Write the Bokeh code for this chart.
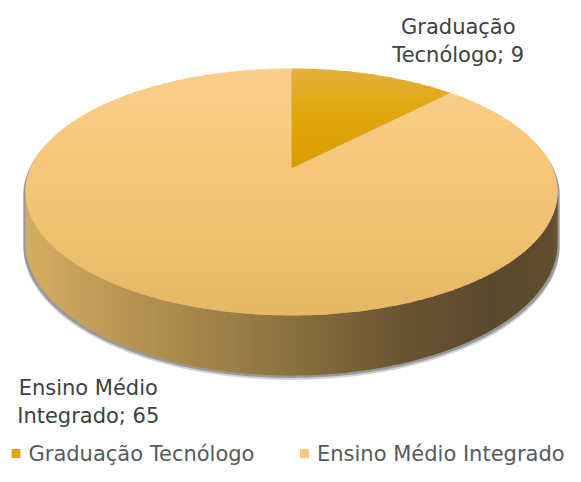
import numpy as np
from bokeh.plotting import figure
from bokeh.models import Range1d
from bokeh.embed import file_html
from bokeh.resources import INLINE
from bokeh.core.properties import value

# ---------------- data ----------------
categories = ["Graduação Tecnólogo", "Ensino Médio Integrado"]
counts = [9, 65]

# ---------------- styles / layout ----------------
W, H = 565, 466
FONT = "DejaVu Sans"
LABEL_COLOR = "#404040"
LEGEND_TEXT_COLOR = "#595959"
LEGEND_COLORS = ["#E2A300", "#F8C87B"]
# vertical gradient stops (y_px, rgb) of each slice's top face
TOP_STOPS = [
    [(68, (228, 176, 62)), (112, (226, 167, 12)), (168, (216, 156, 0))],
    [(68, (250, 206, 139)), (180, (245, 198, 120)), (315, (230, 184, 100))],
]
# horizontal gradient stops (x_px, rgb) of the visible side wall
SIDE_STOPS = [(25, (212, 174, 98)), (120, (186, 150, 84)), (290, (140, 112, 64)),
              (400, (106, 85, 50)), (490, (90, 73, 43)), (557, (96, 78, 46))]

# perspective pie geometry (screen pixels)
CX, CY = 291.0, 168.0
ALPHA, BETA, SX = 119.0, 0.19, 261.2
DEPTH = 60.0 * (1 - BETA)
LABEL_OFFSETS = [(84, -42), (-85, 32)]
TEXT_DY = -6          # renderer places the alphabetic baseline a few px low
LINE_GAP = 28.5
LABEL_SIZE = 21
LEGEND_SIZE = 21
LEG_Y = 459           # visual baseline of legend text
LEG_X = [15.5, 304]


def proj(t, r=1.0, drop=0.0):
    X = r * np.sin(t)
    Y = r * np.cos(t)
    w = 1 + BETA * Y
    return CX + SX * X / w, CY - ALPHA * Y / w + drop / w


def lerp_color(stops, v):
    ks = [s[0] for s in stops]
    rgb = [int(round(np.interp(v, ks, [s[1][c] for s in stops]))) for c in range(3)]
    return "#%02x%02x%02x" % tuple(rgb)


def clip(poly, inside, cut):
    out = []
    for i in range(len(poly)):
        cur, prev = poly[i], poly[i - 1]
        if inside(cur):
            if not inside(prev):
                out.append(cut(prev, cur))
            out.append(cur)
        elif inside(prev):
            out.append(cut(prev, cur))
    return out


def hcut(c):
    def f(p, q):
        s = (c - p[1]) / (q[1] - p[1])
        return (p[0] + s * (q[0] - p[0]), c)
    return f


total = float(sum(counts))
angles = np.concatenate([[0], np.cumsum(counts) / total * 2 * np.pi])

p = figure(width=W, height=H, output_backend="svg", toolbar_location=None,
           x_axis_type=None, y_axis_type=None,
           x_range=Range1d(0, W), y_range=Range1d(H, 0),
           min_border=0, outline_line_color=None, background_fill_color="white")
p.grid.visible = False

xs, ys, cols, alphas = [], [], [], []

# ---- shadow silhouette ----
t_r = np.arccos(-BETA)
t_l = 2 * np.pi - t_r
back = np.linspace(t_l - 2 * np.pi, t_r, 200)
front = np.linspace(t_r, t_l, 200)
sx = [proj(t)[0] for t in back] + [proj(t, drop=DEPTH)[0] for t in front]
sy = [proj(t)[1] for t in back] + [proj(t, drop=DEPTH)[1] for t in front]
for dy, a in [(4.5, 0.22), (2.5, 0.35)]:
    xs.append([CX + (x - CX) * 1.008 for x in sx])
    ys.append([y + dy for y in sy])
    cols.append("#303030")
    alphas.append(a)

# ---- side walls (front part of every slice) ----
for i in range(len(counts)):
    a0, a1 = angles[i], angles[i + 1]
    for off in (0.0, 2 * np.pi):
        lo, hi = max(a0 + off, t_r), min(a1 + off, t_l)
        if hi <= lo:
            continue
        n = max(2, int((hi - lo) / (2 * np.pi) * 500))
        ts = np.linspace(lo, hi, n + 1)
        dt = ts[1] - ts[0]
        for k in range(n):
            ta, tb = ts[k], min(ts[k + 1] + dt * 0.7, hi)
            pa, pb = proj(ta), proj(tb)
            qa, qb = proj(ta, drop=DEPTH), proj(tb, drop=DEPTH)
            xs.append([pa[0], pb[0], qb[0], qa[0]])
            ys.append([pa[1], pb[1], qb[1], qa[1]])
            cols.append(lerp_color(SIDE_STOPS, (pa[0] + pb[0]) / 2))
            alphas.append(1.0)

# ---- top faces with vertical gradient ----
band = 3.0
for i in range(len(counts)):
    a0, a1 = angles[i], angles[i + 1]
    n = max(8, int((a1 - a0) / (2 * np.pi) * 360))
    arc = np.linspace(a0, a1, n + 1)
    poly = [proj(0, r=0)] + [proj(t) for t in arc]
    ymin = min(q[1] for q in poly)
    ymax = max(q[1] for q in poly)
    y0 = np.floor(ymin)
    while y0 < ymax:
        y1 = y0 + band
        part = clip(poly, lambda q, c=y0 - 0.6: q[1] >= c, hcut(y0 - 0.6))
        part = clip(part, lambda q, c=y1 + 0.6: q[1] <= c, hcut(y1 + 0.6)) if part else []
        if len(part) >= 3:
            xs.append([q[0] for q in part])
            ys.append([q[1] for q in part])
            cols.append(lerp_color(TOP_STOPS[i], (y0 + y1) / 2))
            alphas.append(1.0)
        y0 = y1

p.patches(xs, ys, fill_color=cols, fill_alpha=alphas, line_color=None)


# ---- data labels ----
def wrap(s, width=13):
    words, lines, cur = s.split(" "), [], ""
    for w_ in words:
        if cur and len(cur) + 1 + len(w_) > width:
            lines.append(cur)
            cur = w_
        else:
            cur = (cur + " " + w_) if cur else w_
    lines.append(cur)
    return lines


lx, ly, lt = [], [], []
for i, (cat, v) in enumerate(zip(categories, counts)):
    mid = (angles[i] + angles[i + 1]) / 2
    front_side = np.cos(mid) < 0
    ax, ay = proj(mid, drop=DEPTH if front_side else 0.0)
    ox, oy = LABEL_OFFSETS[i]
    for j, line in enumerate(wrap(f"{cat}; {v}")):
        lx.append(ax + ox)
        ly.append(ay + oy + j * LINE_GAP + TEXT_DY)
        lt.append(line)
p.text(lx, ly, text=lt, text_align="center", text_baseline="alphabetic",
       text_font=value(FONT), text_font_size=f"{LABEL_SIZE}px", text_color=LABEL_COLOR)

# ---- legend ----
p.scatter([x for x in LEG_X], [LEG_Y - 6] * len(LEG_X), marker="square", size=9,
          fill_color=LEGEND_COLORS, line_color=None)
p.text([x + 12.5 for x in LEG_X], [LEG_Y + TEXT_DY] * len(LEG_X), text=categories,
       text_align="left", text_baseline="alphabetic", text_font=value(FONT),
       text_font_size=f"{LEGEND_SIZE}px", text_color=LEGEND_TEXT_COLOR)

open("out.html", "w").write(file_html(p, INLINE))
